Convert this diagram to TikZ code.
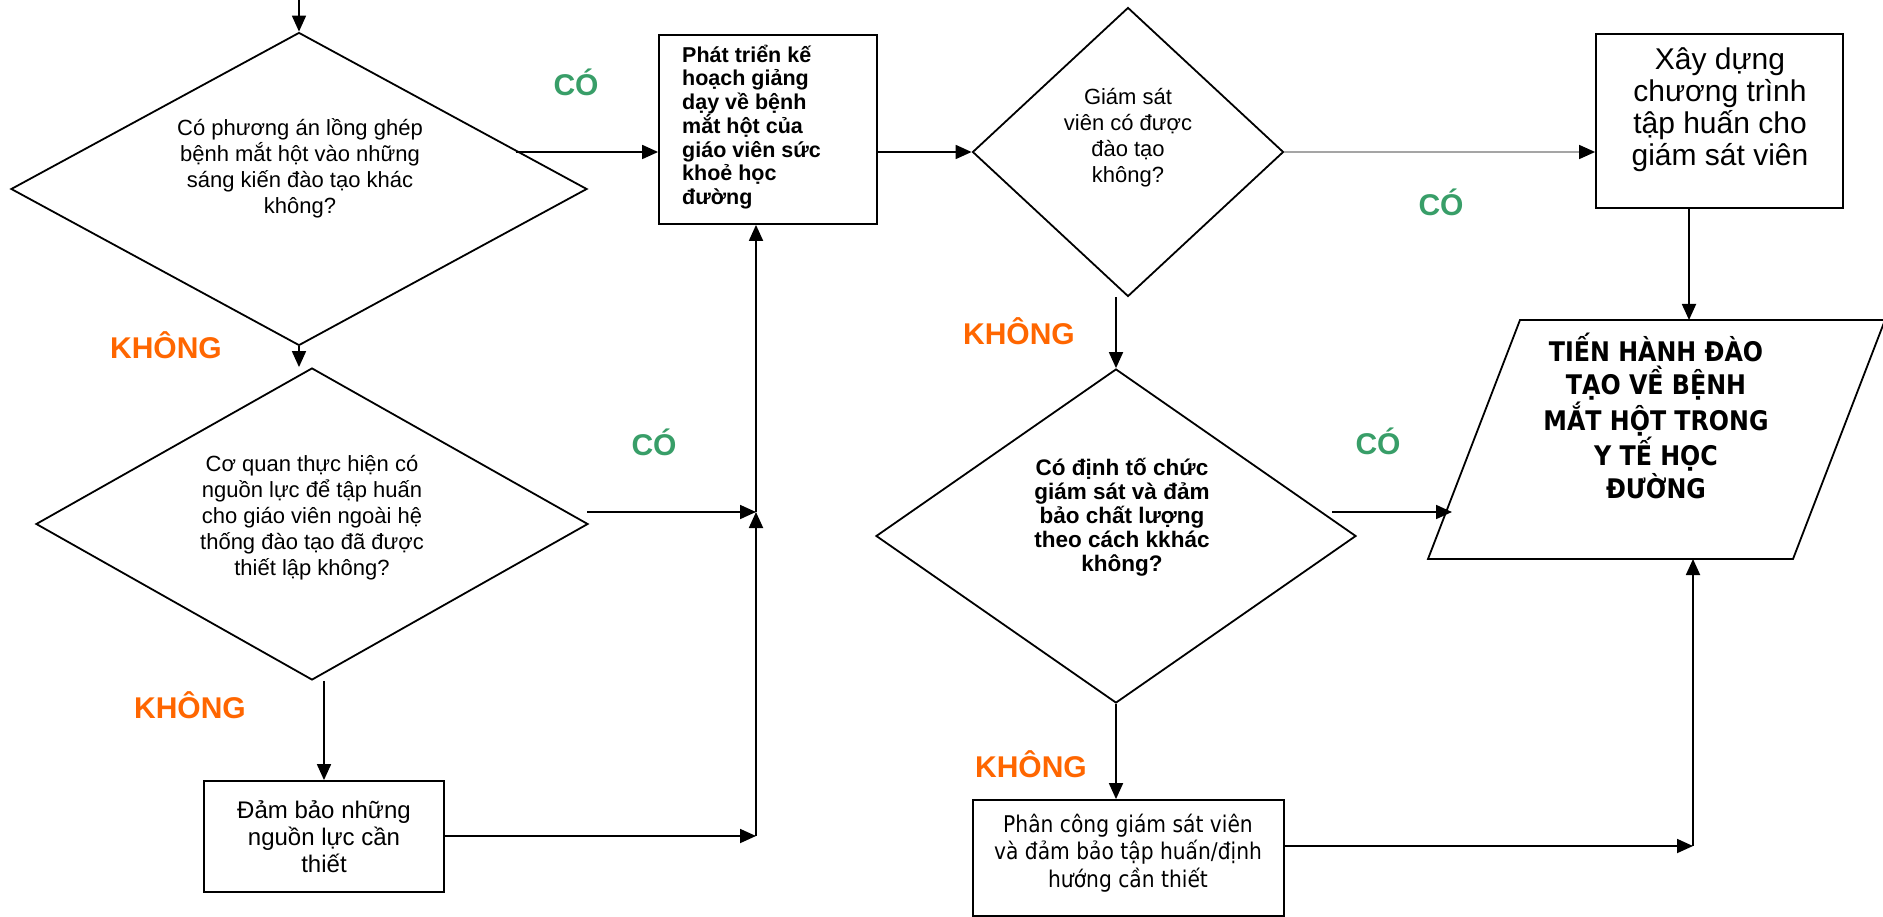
\documentclass[tikz,border=0pt]{standalone}
\usepackage{fontspec}
\setmainfont{Liberation Sans}
\newfontfamily\tah[FakeStretch=0.88]{DejaVu Sans}
\usetikzlibrary{arrows.meta,shapes.geometric}
\definecolor{cogreen}{RGB}{56,158,104}
\definecolor{kor}{RGB}{255,102,0}
\definecolor{lgray}{RGB}{165,165,165}
\begin{document}
\begin{tikzpicture}[x=1pt,y=-1pt,
  shp/.style={draw, line width=1.8pt, inner sep=0pt},
  dia/.style={shp, diamond},
  arr/.style={line width=1.8pt, -{Triangle[length=16pt,width=14pt]}},
  garr/.style={line width=1.5pt, lgray, -{Triangle[length=16pt,width=14pt,color=black]}},
  txt/.style={inner sep=0pt, align=center},
  yes/.style={inner sep=0pt, text=cogreen, font=\bfseries\fontsize{30}{30}\selectfont},
  no/.style={inner sep=0pt, text=kor, font=\bfseries\fontsize{30}{30}\selectfont}]
\useasboundingbox (0,0) rectangle (1883,917);
% shapes
\node[dia, minimum width=576, minimum height=313] (d1) at (299,189) {};
\node[dia, minimum width=552, minimum height=312] (d2) at (312,524) {};
\node[dia, minimum width=311, minimum height=289] (d3) at (1128,152) {};
\node[dia, minimum width=480, minimum height=334] (d4) at (1116,536) {};
\node[shp, rectangle, minimum width=218, minimum height=189] (b1) at (768,129.5) {};
\node[shp, rectangle, minimum width=247, minimum height=174] (b2) at (1719.5,121) {};
\node[shp, rectangle, minimum width=311, minimum height=116] (b3) at (1128.5,858) {};
\node[shp, rectangle, minimum width=240, minimum height=111] (b4) at (324,836.5) {};
% parallelogram
\coordinate (pBL) at (1428,559);
\coordinate (pBR) at (1793,559);
\coordinate (pTR) at (1885,320);
\coordinate (pTL) at (1520,320);
\draw[line width=1.8pt, line join=miter] (pBL) -- (pBR) -- (pTR) -- (pTL) -- cycle;
% texts
\node[txt, font=\fontsize{22}{26}\selectfont] (t1) at (300,168)
  {Có phương án lồng ghép\\bệnh mắt hột vào những\\sáng kiến đào tạo khác\\không?};
\node[txt, font=\fontsize{22}{26}\selectfont] (t2) at (312,518)
  {Cơ quan thực hiện có\\nguồn lực để tập huấn\\cho giáo viên ngoài hệ\\thống đào tạo đã được\\thiết lập không?};
\node[txt, font=\fontsize{22}{26}\selectfont] (t3) at (1128,138)
  {Giám sát\\viên có được\\đào tạo\\không?};
\node[txt, font=\bfseries\fontsize{22.5}{24}\selectfont] (t4) at (1122,517)
  {Có định tố chức\\giám sát và đảm\\bảo chất lượng\\theo cách kkhác\\không?};
\node[txt, align=left, anchor=west, font=\bfseries\fontsize{21.5}{23.5}\selectfont] (t5) at (682,127)
  {Phát triển kế\\hoạch giảng\\dạy về bệnh\\mắt hột của\\giáo viên sức\\khoẻ học\\đường};
\node[txt, font=\fontsize{30}{32}\selectfont] (t6) at (1720,110)
  {Xây dựng\\chương trình\\tập huấn cho\\giám sát viên};
\node[txt, font=\tah\bfseries\fontsize{27}{33.5}\selectfont] (t7) at (1656,416)
  {TIẾN HÀNH ĐÀO\\TẠO VỀ BỆNH\\MẮT HỘT TRONG\\Y TẾ HỌC\\ĐƯỜNG};
\node[txt, font=\tah\fontsize{23}{27.5}\selectfont] (t8) at (1128,853)
  {Phân công giám sát viên\\và đảm bảo tập huấn/định\\hướng cần thiết};
\node[txt, font=\fontsize{24}{27}\selectfont] (t9) at (324,837)
  {Đảm bảo những\\nguồn lực cần\\thiết};
% labels
\node[yes] (l1) at (576,82) {CÓ};
\node[no] (l2) at (166,345) {KHÔNG};
\node[yes] (l3) at (654,442) {CÓ};
\node[no] (l4) at (190,705) {KHÔNG};
\node[no] (l5) at (1019,331) {KHÔNG};
\node[yes] (l6) at (1441,202) {CÓ};
\node[yes] (l7) at (1378,441) {CÓ};
\node[no] (l8) at (1031,764) {KHÔNG};
% coordinates
\coordinate (s0) at (299,0);
\coordinate (c1) at (516,152);
\coordinate (c2) at (587,512);
\coordinate (j1) at (756,512);
\coordinate (j2) at (756,836);
\coordinate (x2) at (1689,0);
\coordinate (c5) at (1332,512);
\coordinate (c6) at (1452,512);
\coordinate (j3) at (1693,846);
% connectors
\draw[arr] (s0) -- (d1.north);
\draw[arr] (c1) -- (c1 -| b1.west);
\draw[arr] (d1.south) -- (d1.south |- d2.north);
\draw[arr] (c2) -- (j1);
\draw[arr] (j1) -- (j1 |- b1.south);
\draw[arr] (d2.south -| b4.north) -- (b4.north);
\draw[arr] (b4.east |- j2) -- (j2);
\draw[arr] (j2) -- (j1);
\draw[arr] (b1.east |- d3.west) -- (d3.west);
\draw[garr] (d3.east) -- (d3.east -| b2.west);
\draw[arr] (b2.south -| x2) -- (pTL -| x2);
\draw[arr] (d3.south -| d4.north) -- (d4.north);
\draw[arr] (c5) -- (c6);
\draw[arr] (d4.south) -- (d4.south |- b3.north);
\draw[arr] (b3.east |- j3) -- (j3);
\draw[arr] (j3) -- (j3 |- pBL);
\end{tikzpicture}
\end{document}
